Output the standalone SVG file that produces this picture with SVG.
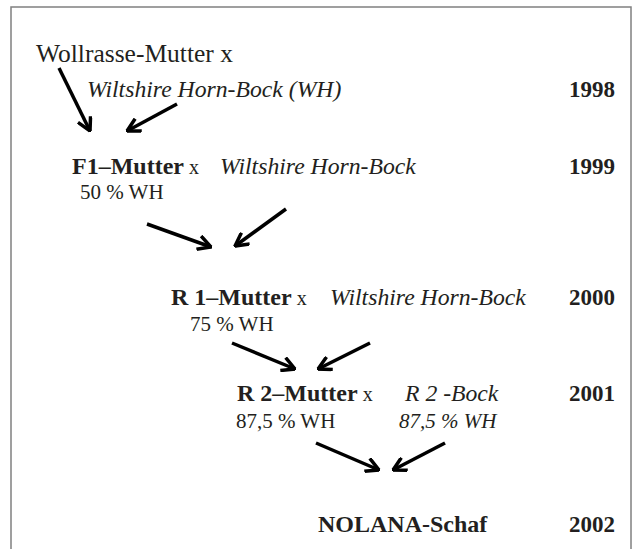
<svg xmlns="http://www.w3.org/2000/svg" width="632" height="549" viewBox="0 0 632 549">
<style>
text{font-family:"Liberation Serif","Times New Roman",serif;fill:#231f20}
.n{font-size:25.5px}
.b{font-weight:bold;font-size:24px}
.i{font-style:italic;font-size:23.7px}
.x{font-size:20px}
.p{font-size:21px}
.pi{font-size:21px;font-style:italic}
.y{font-weight:bold;font-size:23px}
.c{stroke:#000;stroke-width:3.5;fill:none;marker-end:url(#ah)}
</style>
<defs>
<marker id="ah" markerUnits="userSpaceOnUse" viewBox="0 0 16 16" refX="15" refY="8" markerWidth="16" markerHeight="16" orient="auto">
<path d="M2,1 L15,8 L2,15" fill="none" stroke="#000" stroke-width="3.5" stroke-linejoin="miter"/>
</marker>
</defs>
<rect x="11" y="7" width="620" height="560" fill="#fff" stroke="#808080" stroke-width="1.5"/>
<g id="n1998">
<text class="n" x="36" y="62">Wollrasse-Mutter x</text>
<text class="i" x="87" y="97">Wiltshire Horn-Bock (WH)</text>
<text class="y" x="569" y="97">1998</text>
</g>
<g id="n1999">
<text x="72" y="174"><tspan class="b">F1–Mutter</tspan><tspan class="x"> x</tspan></text>
<text class="i" x="220" y="174">Wiltshire Horn-Bock</text>
<text class="p" x="80" y="199">50 % WH</text>
<text class="y" x="569" y="174">1999</text>
</g>
<g id="n2000">
<text x="171" y="305"><tspan class="b">R 1–Mutter</tspan><tspan class="x"> x</tspan></text>
<text class="i" x="330" y="305">Wiltshire Horn-Bock</text>
<text class="p" x="190" y="331">75 % WH</text>
<text class="y" x="569" y="305">2000</text>
</g>
<g id="n2001">
<text x="237" y="401"><tspan class="b">R 2–Mutter</tspan><tspan class="x"> x</tspan></text>
<text class="i" x="405" y="401">R 2 -Bock</text>
<text class="p" x="236" y="428">87,5 % WH</text>
<text class="pi" x="399" y="428">87,5 % WH</text>
<text class="y" x="569" y="401">2001</text>
</g>
<g id="n2002">
<text class="b" x="318" y="532">NOLANA-Schaf</text>
<text class="y" x="569" y="532">2002</text>
</g>
<g id="connectors">
<path class="c" d="M59,68 L90,131"/>
<path class="c" d="M177,104 L127,131"/>
<path class="c" d="M147,224 L211,247"/>
<path class="c" d="M286,209 L235,246"/>
<path class="c" d="M232,343 L295,369"/>
<path class="c" d="M370,343 L318,369"/>
<path class="c" d="M316,443 L379,470"/>
<path class="c" d="M445,443 L393,470"/>
</g>
</svg>
